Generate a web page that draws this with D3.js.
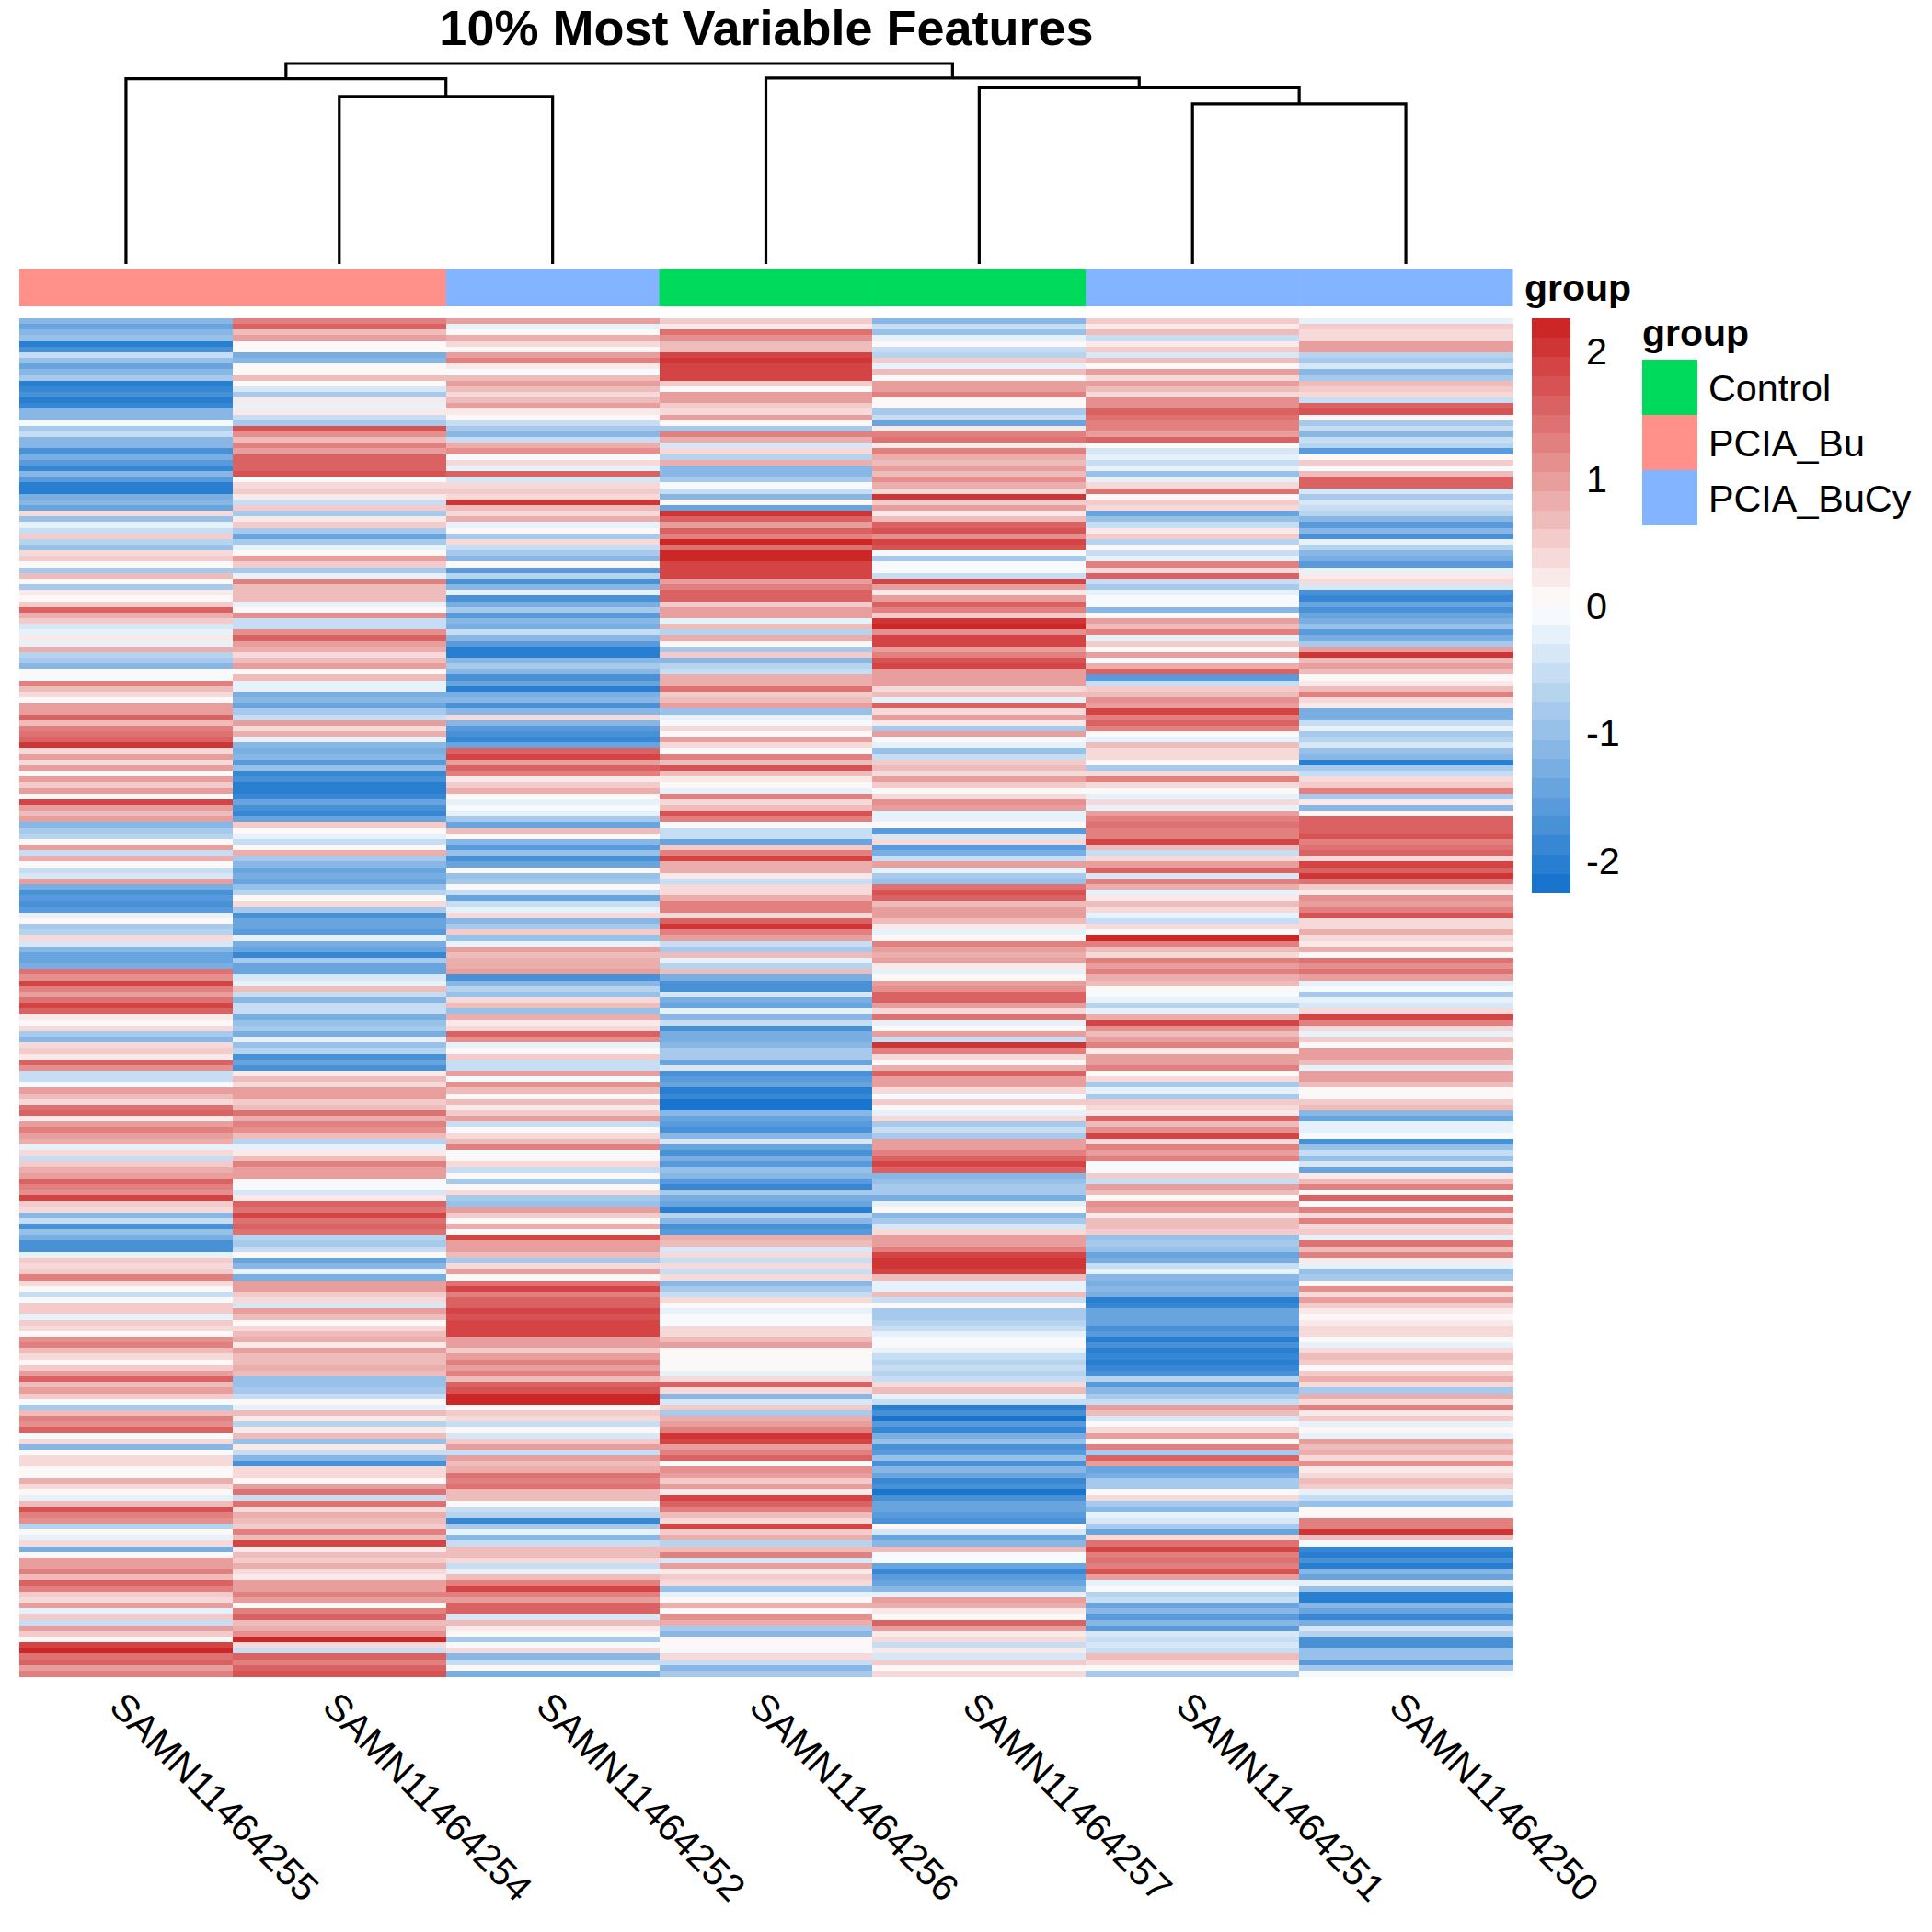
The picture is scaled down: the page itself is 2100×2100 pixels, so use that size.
<!DOCTYPE html>
<html>
<head>
<meta charset="utf-8">
<style>
  html, body { margin: 0; padding: 0; background: #fff; }
  text { font-family: "Liberation Sans", Arial, sans-serif; fill: #000; }
</style>
<script src="https://cdn.jsdelivr.net/npm/d3@7"></script>
</head>
<body>
<div id="vis"></div>
<script>
const titleText = '10% Most Variable Features';
const samples = ['SAMN11464255','SAMN11464254','SAMN11464252','SAMN11464256','SAMN11464257','SAMN11464251','SAMN11464250'];
const sampleGroups = ['PCIA_Bu','PCIA_Bu','PCIA_BuCy','Control','Control','PCIA_BuCy','PCIA_BuCy'];
const groupNames = ['Control','PCIA_Bu','PCIA_BuCy'];
const groupColors = ['#00DA5C','#FF918A','#82B4FF'];
const colorTicks = [2,1,0,-1,-2];

// dendrogram, hclust style: negative = leaf (1 based), positive = earlier merge
const mergePairs = [[-6,-7],[-2,-3],[-5,1],[-4,3],[-1,2],[5,4]];
const mergeHeights = [79.9,83.5,87.9,92.7,92.4,100];

// z-scores, 240 rows per sample, top to bottom
const col255 = [
 -1.1,-1.4,-1.2,-1.0,-2.0,-1.7,-.6,-1.0,-1.4,-1.2,
 -.8,-2.1,-1.9,-1.8,-2.0,-1.9,-1.2,-1.1,-.1,-.8,
 -.6,-1.2,-1.1,-1.8,-1.3,-1.6,-1.9,-1.1,-1.6,-2.0,
 -2.0,-1.3,-1.1,-1.5,.4,-1.0,-.3,-.6,.5,-.7,
 -1.0,.3,.5,.1,-.8,.6,.1,-.9,.2,.05,
 .5,1.6,.8,.5,-.4,-.2,.2,-.2,.8,-.7,
 -.9,-1.1,0,-.1,1.2,.7,.4,.1,1.0,.9,
 1.6,.6,1.3,1.4,1.5,2.0,.4,1.0,.3,.9,
 .1,.9,.5,.9,.1,1.9,1.0,.6,.9,-1.2,
 -.8,-.7,.1,.9,-.6,.8,.1,-.5,-.4,.9,
 -1.3,-1.7,-1.6,-1.7,-1.6,-.3,.05,-.9,-.7,.3,
 -.4,-1.1,-1.4,-1.4,-1.3,1.4,1.1,1.8,1.3,1.0,
 1.4,1.8,1.5,.2,.1,.3,-.9,-1.1,.3,.5,
 .2,1.6,1.1,-.6,-.5,-.1,1.0,.7,.4,1.4,
 1.6,.2,.9,1.2,.9,.8,-.3,.4,-.5,.5,
 .8,1.0,1.6,1.3,1.1,1.9,.5,.3,-1.1,-.5,
 -1.8,-1.0,-1.3,-1.7,-1.8,-.3,.5,.3,.5,1.3,
 .3,.1,-.5,-.1,.5,.5,-.2,.5,.3,.1,
 1.1,1.3,.6,.3,.05,.5,.9,1.6,.7,1.0,
 .5,-.1,-.8,.7,1.2,1.1,1.5,-.1,.3,-1.2,
 .05,.3,.3,.1,.1,.8,.3,.05,-.3,.6,
 1.7,1.2,1.1,-.7,0,-.3,.3,-1.3,0,.9,
 .9,1.2,.6,1.5,1.3,.5,.3,.9,-.2,.5,
 -.6,.9,.5,.1,1.9,2.1,1.4,1.6,.9,1.2];
const col254 = [
 1.3,1.6,.7,1.0,.1,.05,-1.3,-1.1,.05,.05,
 .7,.1,-.4,-.8,.2,-.2,.2,-.5,-.8,1.7,
 1.1,.6,1.3,.9,1.5,1.5,1.6,1.7,.1,.3,
 .5,.2,-.6,.5,-.8,.2,.5,-.9,-1.5,-.9,
 -.3,.1,1.0,.5,-.9,-.3,1.2,.6,.7,.6,
 -.3,.1,1.1,-.6,-.5,1.1,1.5,1.0,.8,.3,
 .6,1.0,.1,.6,-.2,-.2,-1.3,-1.2,-1.5,-.9,
 -.5,.9,.4,.8,-.3,-1.2,-1.3,-1.2,-1.6,-1.0,
 -1.9,-1.8,-2.1,-2.0,-1.9,-1.4,-1.7,-1.9,-1.5,.5,
 .1,-.2,-.5,.1,.8,-.8,-1.1,-1.4,-1.3,-1.5,
 -1.0,-.7,.1,.4,-.8,-1.7,-1.5,-1.4,-1.6,-.2,
 -1.3,-1.5,-1.9,-.9,-1.5,-1.4,-.4,-.2,.7,-.5,
 -1.2,-.5,-.6,-1.3,-1.0,-.8,-1.3,-.3,-1.0,-.7,
 -1.7,-1.4,-1.7,.2,.6,.4,1.0,1.0,.5,.6,
 1.4,.8,1.2,1.1,.6,-.7,-.3,.2,.7,1.3,
 .9,.9,.1,-.1,-.4,.2,1.5,1.4,1.9,1.4,
 1.6,1.4,-.7,-.9,-.6,.1,-1.4,-1.1,-.3,-1.3,
 .9,.9,.5,.4,-.4,1.0,.6,.1,.4,.6,
 .8,.2,1.0,.7,.7,.8,.6,-1.0,-1.0,-.9,
 -.6,.05,-.3,.7,.2,-.7,.2,.7,-1.0,.2,
 -.5,-1.2,-1.7,.3,.4,.05,1.0,1.4,-.5,1.4,
 .3,.8,.7,.5,1.3,.7,1.8,.2,.6,.5,
 .8,.4,.2,.9,1.0,1.2,1.0,.05,1.2,1.5,
 .7,.8,1.1,2.1,.4,-.5,1.5,1.2,1.5,1.7];
const col252 = [
 .9,-.3,.1,.8,.4,.1,1.0,1.2,.2,-.1,
 .7,1.0,.6,.3,.6,1.0,.2,.1,-.5,-.9,
 -1.1,-.6,.8,1.1,-.1,.3,-.3,1.6,-.4,.4,
 .5,.3,2.0,.7,.3,.8,-.3,.1,-.8,.4,
 -.6,-.9,-1.1,.1,-1.6,-.7,-1.8,-1.1,-.3,-1.7,
 -1.3,-.9,-1.6,-1.2,-1.3,-.6,-1.2,-1.6,-2.1,-2.0,
 -1.2,-.8,-1.2,-1.8,-1.4,-2.1,-1.3,-1.2,-1.7,-1.1,
 .4,-1.2,-1.6,-1.7,-1.9,-1.5,1.6,1.9,.9,1.5,
 1.3,.2,.5,.8,0,-.3,-.1,-.2,-.9,-1.4,
 .7,.1,-1.2,-1.6,-1.0,-1.7,-1.5,.05,-1.0,-.9,
 .1,-.5,-1.5,-.5,-.3,.3,-1.2,-.8,.5,-1.0,
 -.3,1.0,.6,.8,.8,1.0,-1.7,-1.1,-.7,-1.0,
 .3,.6,-1.0,.8,.2,.4,1.5,1.1,-.3,.1,
 .5,-.5,-.5,.9,-.1,1.1,.7,.1,.7,.2,
 .5,.9,-.5,.1,.3,.6,1.2,-.1,.1,.3,
 -.6,.1,-.8,.05,.4,-.9,-1.0,.9,.5,.1,
 .8,.1,1.9,.9,1.0,.6,-.9,.4,.9,.1,
 1.4,1.8,1.2,1.5,1.5,1.9,1.7,1.8,1.8,1.9,
 1.0,1.0,.5,1.0,1.2,1.0,1.3,.6,1.6,1.7,
 2.2,2.2,.1,.5,.4,-.5,.1,-.4,.5,.9,
 -.5,.9,.6,.8,1.4,1.2,1.4,.6,.7,.05,
 -.6,-.7,-1.9,-.9,-.2,-1.1,-.6,.6,.7,.3,
 -.6,-.3,.6,1.3,1.9,1.3,1.0,1.5,1.5,-.4,
 .7,.2,.05,-.9,-.1,.4,-1.2,-.5,.05,-1.3];
const col256 = [
 .5,.2,1.4,1.1,.7,.7,1.8,2.0,1.8,1.9,
 1.9,.5,.1,.9,.9,.5,.3,.9,.1,-.8,
 1.3,.8,-.4,.4,-.7,.8,-1.2,-1.2,-.9,-.1,
 -.6,-1.1,0,-1.5,2.0,1.6,1.0,1.5,1.3,2.1,
 1.4,2.25,2.2,1.8,1.9,1.8,.9,1.2,1.6,1.6,
 .5,.9,1.0,-.3,.7,-.7,.8,.1,-.9,.5,
 -1.2,-.7,-.5,.8,.8,1.4,.5,.7,.9,-1.0,
 -.3,-.05,.4,.1,.9,.3,.1,1.3,.7,1.7,
 .7,.2,.1,-.3,1.3,.3,.6,1.7,1.3,.05,
 -.5,-.6,-1.4,.5,1.3,1.8,.8,.8,.2,-.5,
 .4,.3,.8,1.3,1.2,.4,1.6,2.0,1.3,.9,
 -.5,-.8,.6,-.3,-.7,.6,-1.3,-1.7,-1.7,-.4,
 -1.3,-1.4,-.2,-1.1,-.6,-1.8,-1.3,-1.3,-1.1,-.9,
 -.9,-1.4,-.4,-1.7,-1.6,-1.5,-2.0,-1.9,-2.25,-2.2,
 -1.2,-1.4,-1.6,-1.8,-1.2,-.4,-1.4,-1.8,-1.3,-1.6,
 -1.0,-1.1,-1.6,-1.9,-.9,-1.3,-1.5,-2.0,-.7,-1.1,
 -1.8,-1.6,.8,.7,-.4,.3,-.5,.4,-.5,.3,
 -1.2,-.9,-.6,.3,.05,-.3,-.1,-.05,.4,.3,
 .6,1.0,.05,.05,-.05,.1,-.2,.4,1.5,.3,
 -1.1,-.4,.5,-.9,.8,.9,1.2,2.0,1.8,.9,
 1.3,1.5,.1,1.1,.9,.5,.9,.2,1.9,1.5,
 1.2,.7,.3,1.9,.5,.8,-.7,.7,1.2,-.4,
 .9,.2,.5,.4,-1.0,-.3,.1,.8,.1,1.1,
 .8,-.8,-1.1,.05,.05,-.1,.4,-.6,-1.2,-.8];
const col257 = [
 -1.1,-.5,-1.0,-.3,.1,-.5,-.7,.5,-.3,.6,
 .05,.9,1.0,1.2,.05,.1,-.8,-.6,-1.5,.2,
 1.2,1.4,.2,1.2,.8,.6,1.0,.6,1.1,.8,
 .3,2.0,.5,1.0,.2,.6,1.5,1.7,1.1,1.9,
 1.7,-.1,-.9,-.1,-.1,-.6,1.8,1.0,.2,1.0,
 1.5,1.3,.5,2.0,2.1,1.1,1.8,1.8,1.0,1.3,
 1.7,1.9,1.0,.9,.9,.3,.6,-.3,1.6,.3,
 .9,.2,-.8,.9,-.1,-.3,-1.0,-.6,.5,.6,
 .3,1.0,.5,.05,.3,1.1,.9,-.3,-.2,.05,
 -1.6,-.4,.3,-1.6,-1.3,-.6,.9,-.2,-.8,-1.0,
 1.4,1.7,1.6,.7,1.0,1.0,.7,.2,-.2,.1,
 1.2,1.0,.8,.9,.2,-.2,.05,1.0,1.1,1.5,
 1.5,.9,.4,1.4,-.3,.05,1.0,-.5,2.0,1.2,
 .4,.05,.8,1.6,1.0,1.0,.3,-.05,.5,.1,
 -.3,.4,-.9,-.5,-.9,1.0,.9,1.3,1.5,1.8,
 1.6,-1.2,-1.0,-.8,-.9,-1.3,-.2,.1,-1.2,-.9,
 -.4,.4,1.0,.9,1.2,1.9,2.0,2.0,1.8,.6,
 -.3,-.2,.7,-.5,.05,-.9,-.9,-.7,-.6,-.3,
 -.05,.05,-.3,-.6,-.7,-.6,-.7,-.5,.4,.7,
 -.3,-.5,-2.1,-1.8,-2.2,-1.6,-1.9,-1.3,-1.0,-1.8,
 -1.6,-1.0,-1.7,-1.1,-1.4,-1.9,-1.7,-2.2,-1.7,-1.5,
 -1.4,-1.6,-1.8,.05,-.4,-1.5,-1.2,.7,-.05,-.1,
 -1.4,-1.9,-1.6,-1.5,-1.1,-.2,1.0,.8,.2,.1,
 1.6,.9,.2,.3,-.5,.2,-.4,.5,.05,.3];
const col251 = [
 .5,.2,.6,-.5,.2,.5,-.4,.7,.05,.9,
 .4,.9,.6,.3,1.1,1.1,1.6,1.4,1.3,1.3,
 .9,1.5,.1,-.4,-.3,-.6,-.2,-1.0,-.3,.3,
 1.4,.05,.5,.3,-1.5,-1.0,-.6,.2,.5,-.7,
 .05,-.5,-.3,1.2,.3,1.5,-.6,-.9,-.2,-.1,
 -.05,-1.2,.05,.9,.6,1.2,-.3,.5,.05,.9,
 -.1,.8,1.6,-1.6,-.6,.5,.6,1.1,1.0,1.9,
 1.3,1.6,1.3,.1,-.3,.7,.4,.3,.1,-.9,
 .4,1.2,.4,.05,-.2,.3,-.2,1.0,1.2,1.4,
 1.2,1.3,1.9,.7,-.5,.3,.9,1.5,-.4,1.3,
 .8,-.2,.2,.6,.3,-.3,-.5,.3,.05,2.2,
 1.3,.6,.4,1.3,.9,1.2,.8,.6,.05,-.05,
 -.2,-.7,-.3,.8,1.9,1.1,.7,.9,1.3,.2,
 .9,1.0,1.3,.1,.3,-.8,-.2,-.8,.5,.3,
 .2,1.5,.7,1.1,1.9,.3,1.3,1.0,1.2,-.1,
 -.1,.5,-.6,1.0,.6,.1,1.1,1.0,.2,.7,
 .7,.5,-1.0,-.8,-1.0,-1.5,-1.3,-.5,-.3,-1.2,
 -1.3,-1.1,-1.3,-2.0,-1.9,-1.4,-1.5,-1.4,-1.8,-1.6,
 -2.0,-1.7,-2.0,-1.9,-2.0,-1.9,-1.7,-.7,-1.6,-1.2,
 -.8,-.6,1.0,.6,-.4,.05,.4,1.0,.1,1.2,
 -.9,1.6,.9,-1.4,-1.3,-.8,-.8,.1,.4,-.8,
 -1.1,-.3,-.4,-.9,-1.5,.3,1.4,1.9,1.3,1.4,
 1.2,1.7,.9,-.3,-.1,-.7,-.6,-1.4,-1.2,-1.6,
 -1.1,-1.6,-.4,-.6,-.4,-.5,.6,.4,.1,-.8];
const col250 = [
 -.2,.5,.3,.3,.9,1.0,-.7,-.8,-.4,-1.1,
 -.8,.7,.5,.4,-.5,1.5,1.7,.1,-.9,-.5,
 -1.2,-.5,-.7,-1.6,.1,.5,-.1,.7,1.6,1.5,
 -.4,-.8,-.4,-.5,-.7,-1.1,-1.6,-1.2,-1.7,-.2,
 -.7,-1.1,-1.3,-1.6,-.3,.2,.4,-.4,-1.7,-1.9,
 -1.4,-1.8,-1.5,-1.3,-1.0,-1.6,-1.3,-.9,.9,2.0,
 .6,.9,.6,.05,.2,.6,1.2,.3,.2,-1.3,
 -1.3,-.5,-.3,-.8,-.7,-.4,-1.0,-1.2,-2.0,-.8,
 -.5,.4,.5,1.3,-.9,.2,-1.1,.1,1.5,1.6,
 1.5,1.7,1.3,1.4,1.6,.4,1.8,1.6,2.0,1.4,
 .5,.2,1.1,.9,1.3,1.7,.3,.4,.8,.3,
 .2,.8,.1,1.4,1.1,1.4,1.0,-.3,-.1,-.9,
 -.3,-.4,.3,1.8,1.2,.3,-.2,.5,.1,1.0,
 1.0,.7,-.3,.9,1.0,.6,.05,.05,.5,.6,
 -1.1,-1.4,-.3,-.2,-.1,-1.8,-1.0,-.6,-1.0,-.4,
 -1.4,.2,.7,1.3,.1,1.5,.1,1.2,.3,1.2,
 .4,.5,-.2,1.4,.7,1.2,.2,-.3,-1.0,-.9,
 .05,1.1,.3,1.0,.5,.2,.1,.2,.4,.3,
 .05,-.2,.4,.7,.5,.05,.5,.8,.3,-.8,
 .8,.3,1.2,.2,.5,-.3,.1,-.2,1.0,.6,
 .8,.3,1.1,.2,.4,.7,.5,-.2,-.6,-1.0,
 .05,.1,1.3,1.3,2.0,.6,-.1,-1.9,-2.0,-1.8,
 -2.0,-1.2,-1.5,-.2,-1.0,-2.0,-2.0,-1.2,-1.4,-1.9,
 -1.3,-.4,-.7,-1.7,-1.8,-1.0,-1.0,-1.6,-.9,-.1];
const matrix = [col255,col254,col252,col256,col257,col251,col250];

const svg = d3.select('#vis').append('svg')
    .attr('width', 2100)
    .attr('height', 2100)
    .style('display', 'block');

// Scaling
let xScale = d3.scaleBand().domain(samples).range([21, 1644]);
let yScale = d3.scaleBand().domain(d3.range(col255.length)).range([346, 1822]);

const ramp = d3.piecewise(d3.interpolateRgb, ['#1874CD', '#FFFFFF', '#CD2626']);
const palette = d3.quantize(ramp, 30);
let colorScale = d3.scaleQuantize().domain([-2.26, 2.25]).range(palette);
let groupColor = d3.scaleOrdinal().domain(groupNames).range(groupColors);

// Title
svg.append('text')
    .attr('x', 833)
    .attr('y', 49)
    .attr('text-anchor', 'middle')
    .style('font-size', '54px')
    .style('font-weight', 'bold')
    .text(titleText);

// Dendrogram
let dendroY = d3.scaleLinear().domain([0, 100]).range([287, 69]);
let nodes = [];
function nodeAt(ref) {
    if (ref < 0) {
        return {x: xScale(samples[-ref - 1]) + xScale.bandwidth() / 2, h: 0};
    }
    return nodes[ref - 1];
}
mergePairs.forEach(function(pair, i) {
    let a = nodeAt(pair[0]), b = nodeAt(pair[1]);
    let h = mergeHeights[i];
    nodes.push({x: (a.x + b.x) / 2, h: h, a: a, b: b});
});
svg.append('g').selectAll('path')
    .data(nodes)
    .enter()
    .append('path')
    .attr('fill', 'none')
    .attr('stroke', '#000')
    .attr('stroke-width', 3.2)
    .attr('d', function(d) {
        return 'M' + d.a.x + ',' + dendroY(d.a.h) + 'V' + dendroY(d.h) + 'H' + d.b.x + 'V' + dendroY(d.b.h);
    });

// Annotation bar
svg.append('g').selectAll('rect')
    .data(samples)
    .enter()
    .append('rect')
    .attr('x', d => xScale(d))
    .attr('y', 292)
    .attr('width', xScale.bandwidth() + 0.5)
    .attr('height', 41)
    .attr('fill', (d, i) => groupColor(sampleGroups[i]));

svg.append('text')
    .attr('x', 1657)
    .attr('y', 327)
    .style('font-size', '41px')
    .style('font-weight', 'bold')
    .text('group');

// Heatmap
let heat = svg.append('g').attr('shape-rendering', 'crispEdges');
matrix.forEach(function(values, c) {
    heat.append('g').selectAll('rect')
        .data(values)
        .enter()
        .append('rect')
        .attr('x', xScale(samples[c]))
        .attr('y', (d, i) => yScale(i))
        .attr('width', xScale.bandwidth() + 0.5)
        .attr('height', yScale.bandwidth() + 0.5)
        .attr('fill', d => colorScale(d));
});

// Sample labels
svg.append('g').selectAll('text')
    .data(samples)
    .enter()
    .append('text')
    .attr('transform', d => 'translate(' + (xScale(d) + xScale.bandwidth() / 2 - 20) + ',1857) rotate(45)')
    .style('font-size', '41.3px')
    .text(d => d);

// Colour bar
let barBand = d3.scaleBand().domain(d3.range(30)).range([970, 346]);
svg.append('g').attr('shape-rendering', 'crispEdges').selectAll('rect')
    .data(palette)
    .enter()
    .append('rect')
    .attr('x', 1665)
    .attr('y', (d, i) => barBand(i))
    .attr('width', 42)
    .attr('height', barBand.bandwidth() + 0.5)
    .attr('fill', d => d);

let barScale = d3.scaleLinear().domain([-2, 2]).range([936, 382.5]);
let barAxis = d3.axisRight(barScale)
    .tickValues(colorTicks)
    .tickSize(0)
    .tickPadding(0)
    .tickFormat(d => String(d));
let barGuide = svg.append('g')
    .attr('transform', 'translate(1724,0)')
    .call(barAxis);
barGuide.select('.domain').remove();
barGuide.selectAll('text')
    .style('font-size', '41.3px')
    .style('font-family', '"Liberation Sans", Arial, sans-serif');

// Group legend
svg.append('text')
    .attr('x', 1785)
    .attr('y', 376)
    .style('font-size', '41px')
    .style('font-weight', 'bold')
    .text('group');

let legendY = d3.scaleBand().domain(groupNames).range([391, 571]);
svg.append('g').selectAll('rect')
    .data(groupNames)
    .enter()
    .append('rect')
    .attr('x', 1785)
    .attr('y', d => legendY(d))
    .attr('width', 60)
    .attr('height', legendY.bandwidth())
    .attr('fill', d => groupColor(d));
svg.append('g').selectAll('text')
    .data(groupNames)
    .enter()
    .append('text')
    .attr('x', 1857)
    .attr('y', d => legendY(d) + legendY.bandwidth() / 2 + 15)
    .style('font-size', '41.3px')
    .text(d => d);
</script>
</body>
</html>
